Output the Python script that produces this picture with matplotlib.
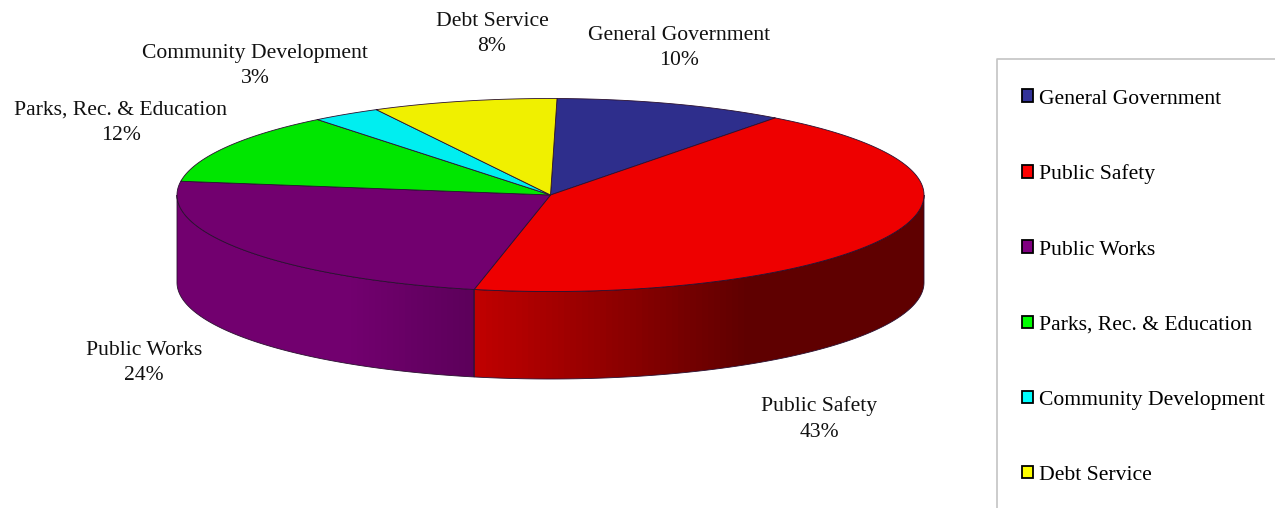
import numpy as np
import matplotlib
matplotlib.use("Agg")
import matplotlib.pyplot as plt
from matplotlib.patches import Patch, PathPatch, Polygon
from matplotlib.path import Path

categories = ["General Government", "Public Safety", "Public Works",
              "Parks, Rec. & Education", "Community Development", "Debt Service"]
shares = [10, 43, 24, 12, 3, 8]
top_colors = ["#2e2e8c", "#ee0000", "#72006f", "#00e600", "#00eef0", "#f0f000"]
legend_colors = ["#333399", "#ff0000", "#800080", "#00ff00", "#00ffff", "#ffff00"]
label_xy = [(679, 48), (819, 419), (144, 363), (121, 123), (255, 66), (492, 34)]

CX, CY, RX, RY, DEPTH = 550.5, 195.0, 373.5, 96.5, 87.5
START_DEG = 1.0
EDGE = "#2a1030"

plt.rcParams["font.family"] = ["Liberation Serif", "DejaVu Serif"]
FONT_PT = 15.6

fig = plt.figure(figsize=(12.75, 5.08), dpi=100, facecolor="white")
ax = fig.add_axes([0, 0, 1, 1])


def rim(deg, drop=0.0):
    """Points on the elliptical rim, clockwise from twelve o'clock."""
    rad = np.radians(deg)
    return np.column_stack([CX + RX * np.sin(rad), CY - RY * np.cos(rad) + drop])


def shade(x):
    """Lighting factor across the side wall, darker to the right."""
    return np.clip(0.82 - (x - 469) * 0.00151, 0.40, 1.0)


edges = START_DEG + 360 * np.cumsum([0] + shares) / sum(shares)

# Side wall: only the front half of the rim is visible.
for i, color in enumerate(top_colors):
    a0, a1 = max(edges[i], 90), min(edges[i + 1], 270)
    if a0 >= a1:
        continue
    deg = np.linspace(a0, a1, 200)
    outline = np.vstack([rim(deg), rim(deg[::-1], DEPTH)])
    clip = PathPatch(Path(np.vstack([outline, outline[:1]]), closed=True),
                     facecolor="none", edgecolor=EDGE, lw=0.6, zorder=3)
    ax.add_patch(clip)
    x0, x1 = outline[:, 0].min(), outline[:, 0].max()
    y0, y1 = outline[:, 1].min(), outline[:, 1].max()
    xs = np.arange(np.floor(x0), np.ceil(x1) + 1, 6.0)
    rgb = np.array(matplotlib.colors.to_rgb(color))
    strip = (shade(xs + 3)[:, None] * rgb)[None, :, :]
    im = ax.imshow(strip, extent=[xs[0], xs[-1] + 6, y1, y0], aspect="auto",
                   interpolation="nearest", zorder=2)
    im.set_clip_path(clip)

# Top face wedges.
for i, color in enumerate(top_colors):
    deg = np.linspace(edges[i], edges[i + 1], 200)
    pts = np.vstack([[CX, CY], rim(deg)])
    ax.add_patch(Polygon(pts, closed=True, facecolor=color, edgecolor=EDGE,
                         lw=0.6, joinstyle="round", zorder=4))

# Category and percentage labels.
for name, share, (x, y) in zip(categories, shares, label_xy):
    ax.text(x, y, f"{name}\n{share}%", ha="center", va="center",
            fontsize=FONT_PT, color="#111111", linespacing=1.44, zorder=6)

# Legend panel runs off the right and bottom of the canvas.
ax.plot([997, 997, 1275], [508, 59, 59], color="#c4c4c4", lw=1.2, zorder=1)
handles = [Patch(facecolor=c, edgecolor="black", lw=1.3) for c in legend_colors]
ax.legend(handles, categories, loc="upper left",
          bbox_to_anchor=(1022, 89.5), bbox_transform=ax.transData,
          frameon=False, fontsize=FONT_PT, handlelength=0.53, handleheight=0.53,
          handletextpad=0.25, labelspacing=2.585, borderpad=0, borderaxespad=0)

ax.set_xlim(0, 1275)
ax.set_ylim(508, 0)
ax.axis("off")
fig.savefig("out.png", dpi=100, facecolor="white")
